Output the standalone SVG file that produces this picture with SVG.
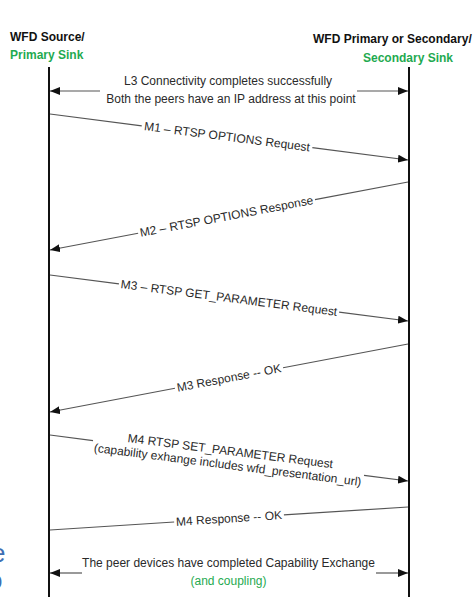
<svg xmlns="http://www.w3.org/2000/svg" width="474" height="609" viewBox="0 0 474 609">
<defs>
<marker id="ah" viewBox="0 0 10 8" refX="10" refY="4" markerWidth="10" markerHeight="8" orient="auto" markerUnits="userSpaceOnUse"><path d="M0,0 L10,4 L0,8 z" fill="#111"/></marker>
<style>
.hd{font-family:"Liberation Sans",Arial,sans-serif;font-size:12px;font-weight:bold;fill:#111}
.t{font-family:"Liberation Sans",Arial,sans-serif;font-size:12px;fill:#2a2a2a}
.gr{fill:#1faa50}
.c{text-anchor:middle}
.life{stroke:#111;stroke-width:2}
.msg{stroke:#555;stroke-width:1.2;fill:none}
.frag{font-family:"Liberation Sans",Arial,sans-serif;font-size:26px;fill:#3f6fb3}
</style>
</defs>
<rect width="474" height="609" fill="#fff"/>
<text class="frag" x="-9" y="562">e</text>
<text class="frag" x="-12" y="589">o</text>
<g id="source">
<text class="hd" x="10" y="41">WFD Source/</text>
<text class="hd gr" x="10" y="59">Primary Sink</text>
<line class="life" x1="49" y1="67" x2="49" y2="597"/>
</g>
<g id="sink">
<text class="hd" x="313" y="43">WFD Primary or Secondary/</text>
<text class="hd gr" x="363" y="62">Secondary Sink</text>
<line class="life" x1="409" y1="67" x2="409" y2="597"/>
</g>
<g id="connectors">
<g id="l3">
<line class="msg" x1="100" y1="91" x2="50" y2="91" marker-end="url(#ah)"/>
<line class="msg" x1="357" y1="91" x2="408" y2="91" marker-end="url(#ah)"/>
<text class="t c" x="228" y="85">L3 Connectivity completes successfully</text>
<text class="t c" x="231" y="103">Both the peers have an IP address at this point</text>
</g>
<g id="m1" transform="translate(50,114) rotate(7.322)">
<path class="msg" d="M0,0 H92.5 M264.5,0 H360.9" marker-end="url(#ah)"/>
<text class="t c" x="178.5" y="4">M1 – RTSP OPTIONS Request</text>
</g>
<g id="m2" transform="translate(50,250) rotate(-10.755)">
<path class="msg" d="M364.4,0 H269.7 M89.7,0 H0" marker-end="url(#ah)"/>
<text class="t c" x="179.7" y="4">M2 – RTSP OPTIONS Response</text>
</g>
<g id="m3req" transform="translate(50,275) rotate(7.322)">
<path class="msg" d="M0,0 H69.5 M291.5,0 H360.9" marker-end="url(#ah)"/>
<text class="t c" x="180.5" y="4">M3 – RTSP GET_PARAMETER Request</text>
</g>
<g id="m3resp" transform="translate(50,412) rotate(-10.755)">
<path class="msg" d="M364.4,0 H237.2 M127.2,0 H0" marker-end="url(#ah)"/>
<text class="t c" x="182.2" y="4">M3 Response -- OK</text>
</g>
<g id="m4req" transform="translate(50,435) rotate(7.322)">
<path class="msg" d="M0,0 H43.4 M316.6,0 H360.9" marker-end="url(#ah)"/>
<text class="t c" x="181" y="-3">M4 RTSP SET_PARAMETER Request</text>
<text class="t c" x="180" y="11">(capability exhange includes wfd_presentation_url)</text>
</g>
<g id="m4resp" transform="translate(50,530) rotate(-3.676)">
<path class="msg" d="M358.7,0 H234.4 M124.4,0 H0"/>
<text class="t c" x="179.4" y="4">M4 Response -- OK</text>
</g>
<g id="done">
<line class="msg" x1="82" y1="573" x2="50" y2="573" marker-end="url(#ah)"/>
<line class="msg" x1="376" y1="573" x2="408" y2="573" marker-end="url(#ah)"/>
<text class="t c" x="228.5" y="567">The peer devices have completed Capability Exchange</text>
<text class="t c gr" x="228.5" y="585">(and coupling)</text>
</g>
</g>
</svg>
